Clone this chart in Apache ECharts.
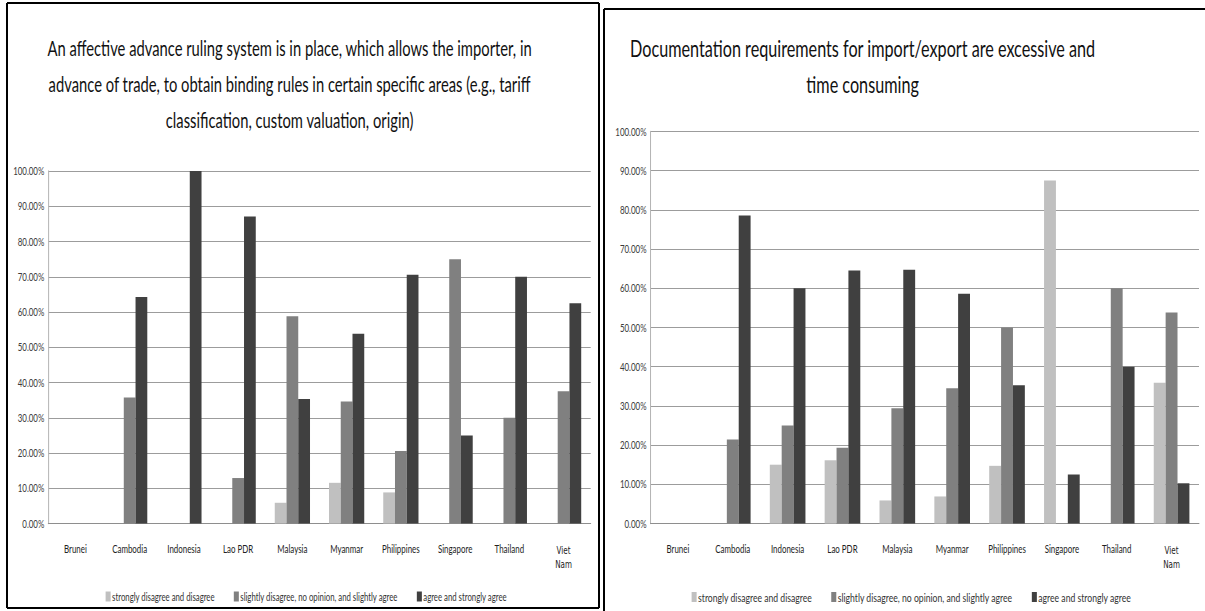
<!DOCTYPE html>
<html>
<head>
<meta charset="utf-8">
<title>ASEAN trade facilitation survey</title>
<script src="https://cdn.jsdelivr.net/npm/echarts@6/dist/echarts.min.js"></script>
<style>
  html, body { margin: 0; padding: 0; background: #ffffff; overflow: hidden; width: 1205px; height: 611px; }
  /* the chart is laid out wide, then squeezed horizontally to give the tall, narrow lettering */
  #chart { height: 611px; transform-origin: 0 0; }
</style>
</head>
<body>
<div id="chart"></div>
<script>
// Countries surveyed
const categories = ['Brunei', 'Cambodia', 'Indonesia', 'Lao PDR', 'Malaysia', 'Myanmar', 'Philippines', 'Singapore', 'Thailand', 'Viet Nam'];

// Response groups (legend labels)
const seriesNames = [
  'strongly disagree and disagree',
  'slightly disagree, no opinion, and slightly agree',
  'agree and strongly agree'
];

// Share of respondents (%) - advance ruling system
const rulingDisagree = [0, 0, 0, 0, 5.88, 11.54, 8.82, 0, 0, 0];
const rulingNeutral  = [0, 35.71, 0, 12.90, 58.82, 34.62, 20.59, 75.00, 30.00, 37.50];
const rulingAgree    = [0, 64.29, 100.00, 87.10, 35.29, 53.85, 70.59, 25.00, 70.00, 62.50];

// Share of respondents (%) - documentation requirements
const docsDisagree = [0, 0, 15.00, 16.13, 5.88, 6.90, 14.71, 87.50, 0, 35.90];
const docsNeutral  = [0, 21.43, 25.00, 19.35, 29.41, 34.48, 50.00, 0, 60.00, 53.85];
const docsAgree    = [0, 78.57, 60.00, 64.52, 64.71, 58.62, 35.29, 12.50, 40.00, 10.26];

// Panel titles
const titleRuling = [
  'An affective advance ruling system is in place, which allows the importer, in',
  'advance of trade, to obtain binding rules in certain specific areas (e.g., tariff',
  'classification, custom valuation, origin)'
];
const titleDocs = [
  'Documentation requirements for import/export are excessive and',
  'time consuming'
];

const colors = ['#c0c0c0', '#808080', '#404040'];
const FONT = "Lato, 'Open Sans', 'Liberation Sans', sans-serif";

// horizontal squeeze factor; x positions below are given in page pixels and divided by it
const SX = 0.72;
const px = function (v) { return v / SX; };

const el = document.getElementById('chart');
el.style.width = px(1205) + 'px';
el.style.transform = 'scaleX(' + SX + ')';

const chart = echarts.init(el, null, { renderer: 'svg' });

function xAxisFor(gridIndex) {
  return {
    type: 'category',
    gridIndex: gridIndex,
    data: categories,
    axisTick: { show: false },
    axisLine: { lineStyle: { color: '#8c8c8c', width: 1 } },
    axisLabel: {
      interval: 0,
      margin: 20,
      color: '#222',
      fontFamily: FONT,
      fontSize: 11,
      formatter: function (v) {
        return v === 'Viet Nam' ? '{w|Viet}\n{w|Nam}' : v;
      },
      rich: {
        w: { fontFamily: "'DejaVu Sans', sans-serif", fontSize: 10, lineHeight: 14, color: '#222' }
      }
    }
  };
}

function yAxisFor(gridIndex) {
  return {
    type: 'value',
    gridIndex: gridIndex,
    min: 0,
    max: 100,
    interval: 10,
    axisLine: { show: true, lineStyle: { color: '#b4b4b4', width: 1.4 } },
    axisTick: { show: false },
    splitLine: { lineStyle: { color: '#8c8c8c', width: 1 } },
    axisLabel: {
      margin: px(4),
      color: '#3a3a3a',
      fontFamily: FONT,
      fontSize: 11,
      formatter: function (v) { return v.toFixed(2) + '%'; }
    }
  };
}

function barSeries(name, data, idx, axisIndex) {
  return {
    name: name,
    type: 'bar',
    xAxisIndex: axisIndex,
    yAxisIndex: axisIndex,
    data: data,
    barGap: '0%',
    barCategoryGap: '35%',
    itemStyle: { color: colors[idx] },
    emphasis: { disabled: true }
  };
}

function legendAt(left, size) {
  return {
    left: px(left),
    top: 586,
    itemWidth: 7,
    itemHeight: 10,
    itemGap: px(19),
    icon: 'rect',
    selectedMode: false,
    data: seriesNames,
    textStyle: { fontFamily: FONT, fontSize: size, color: '#333', padding: [0, 0, 0, -3] }
  };
}

function frame(x0, y0, x1, y1) {
  const v = { stroke: '#000', lineWidth: 2 / SX };
  const h = { stroke: '#000', lineWidth: 2 };
  return [
    { type: 'line', silent: true, shape: { x1: px(x0), y1: y0, x2: px(x1), y2: y0 }, style: h },
    { type: 'line', silent: true, shape: { x1: px(x0), y1: y1, x2: px(x1), y2: y1 }, style: h },
    { type: 'line', silent: true, shape: { x1: px(x0), y1: y0, x2: px(x0), y2: y1 }, style: v },
    { type: 'line', silent: true, shape: { x1: px(x1), y1: y0, x2: px(x1), y2: y1 }, style: v }
  ];
}

function titleStyle(size) {
  return { fontFamily: FONT, fontSize: size, fontWeight: 'normal', color: '#111', lineHeight: 36 };
}

const option = {
  backgroundColor: '#ffffff',
  animation: false,
  color: colors,
  title: [
    { text: titleRuling.join('\n'), left: px(286), top: 25, textAlign: 'center', textStyle: titleStyle(20.5) },
    { text: titleDocs.join('\n'), left: px(859), top: 25, textAlign: 'center', textStyle: titleStyle(22.5) }
  ],
  grid: [
    { left: px(48.3), width: px(542.4), top: 171, bottom: 87.5 },
    { left: px(650.5), width: px(548.5), top: 131.5, bottom: 87.5 }
  ],
  xAxis: [xAxisFor(0), xAxisFor(1)],
  yAxis: [yAxisFor(0), yAxisFor(1)],
  legend: [legendAt(102, 10.8), legendAt(688, 12)],
  series: [
    barSeries(seriesNames[0], rulingDisagree, 0, 0),
    barSeries(seriesNames[1], rulingNeutral, 1, 0),
    barSeries(seriesNames[2], rulingAgree, 2, 0),
    barSeries(seriesNames[0], docsDisagree, 0, 1),
    barSeries(seriesNames[1], docsNeutral, 1, 1),
    barSeries(seriesNames[2], docsAgree, 2, 1)
  ],
  graphic: frame(7, 3, 599, 608).concat(frame(604, 9, 1240, 640))
};

chart.setOption(option);
</script>
</body>
</html>
